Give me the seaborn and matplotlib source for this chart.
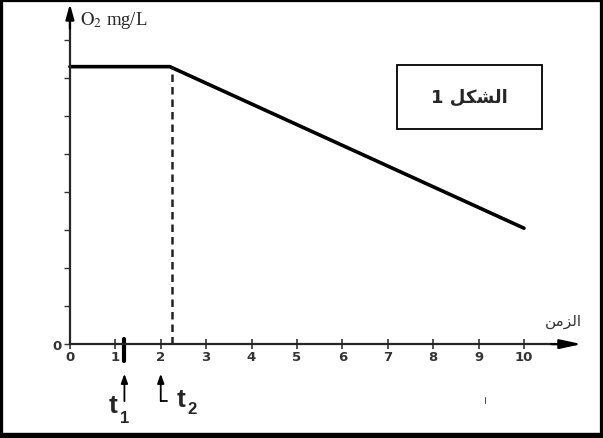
import numpy as np
import pandas as pd
import matplotlib
matplotlib.use("Agg")
import matplotlib.pyplot as plt
import matplotlib.patches as patches
import seaborn as sns

# data
time = [0, 2.2, 10]
o2 = [7.3, 7.3, 3.05]
knee_x = 2.25
x_ticks = list(range(0, 11))
y_ticks = list(range(0, 9))
t1 = 1.2
t2 = 2.0

# arabic labels (presentation forms, visual order)
title_ar = "1 " + "\uFEDE\uFEDC\uFEB8\uFEDF\uFE8D"   # الشكل 1
xlabel_ar = "\uFEE6\uFEE3\uFEB0\uFEDF\uFE8D"          # الزمن

sns.set_style("white")
plt.rcParams['font.family'] = ['DejaVu Sans']
plt.rcParams['mathtext.fontset'] = 'stix'

fig = plt.figure(figsize=(6.03, 4.39), dpi=100)
ax = fig.add_axes([0, 0, 1, 1])
ax.set_xlim(-1.54, 11.74)
ax.set_ylim(-2.47, 9.08)

df = pd.DataFrame({"t": time, "o2": o2})
sns.lineplot(data=df, x="t", y="o2", color="black", lw=2.6, ax=ax)
ax.plot([knee_x, knee_x], [0, o2[1]], color="#222222", lw=1.8, ls=(0, (3, 2)))

# axes through origin
for s in ["top", "right"]:
    ax.spines[s].set_visible(False)
ax.spines["left"].set_position(("data", 0))
ax.spines["bottom"].set_position(("data", 0))
ax.spines["left"].set_bounds(0, 8.5)
ax.spines["bottom"].set_bounds(0, 10.9)
ax.spines["left"].set_linewidth(1.6)
ax.spines["bottom"].set_linewidth(1.6)
arrow_kw = dict(color="black", lw=1.6, shrinkA=0, shrinkB=0)
ax.annotate("", xy=(11.27, 0), xytext=(10.6, 0),
            arrowprops=dict(arrowstyle="-|>,head_length=1.3,head_width=0.28",
                            **arrow_kw))
ax.annotate("", xy=(0, 8.95), xytext=(0, 8.3),
            arrowprops=dict(arrowstyle="-|>,head_length=0.9,head_width=0.25",
                            **arrow_kw))

ax.set_xticks(x_ticks)
ax.set_xticklabels([str(v) for v in x_ticks], fontsize=9.5, fontweight="bold",
                   color="#333333")
ax.set_yticks(y_ticks)
ax.set_yticklabels(["0"] + [""] * (len(y_ticks) - 1), fontsize=9.5,
                   fontweight="bold", color="#333333")
ax.tick_params(axis="x", bottom=True, direction="inout", length=7, width=1.2,
               pad=1, color="#333333")
ax.tick_params(axis="y", left=True, direction="out", length=4, width=1.0,
               pad=2, color="#333333")
ax.set_xlabel("")
ax.set_ylabel("")

ax.text(0.22, 8.55, r"$\mathrm{O_2}$ mg/L", fontsize=13.5,
        family="Liberation Serif", va="center", ha="left")
ax.text(11.28, 0.63, xlabel_ar, fontsize=11, ha="right", va="center",
        color="#333333")

# t1 / t2 markers
ax.plot([t1, t1], [0.13, -0.45], color="black", lw=3)
small_kw = dict(color="black", lw=1.3, shrinkA=0, shrinkB=0)
ax.annotate("", xy=(t1, -0.78), xytext=(t1, -1.5),
            arrowprops=dict(arrowstyle="-|>,head_length=0.55,head_width=0.2",
                            **small_kw))
ax.annotate("", xy=(t2, -0.78), xytext=(t2, -1.5),
            arrowprops=dict(arrowstyle="-|>,head_length=0.55,head_width=0.2",
                            **small_kw))
ax.plot([t2, t2 + 0.13], [-1.5, -1.5], color="black", lw=1.3)
ax.text(0.95, -1.6, "t", fontsize=19, fontweight="bold",
        family="Liberation Sans", ha="center", va="center")
ax.text(1.2, -1.92, "1", fontsize=12, fontweight="bold",
        family="Liberation Sans", ha="center", va="center")
ax.text(2.45, -1.45, "t", fontsize=19, fontweight="bold",
        family="Liberation Sans", ha="center", va="center")
ax.text(2.68, -1.7, "2", fontsize=12, fontweight="bold",
        family="Liberation Sans", ha="center", va="center")
ax.plot([9.15, 9.15], [-1.38, -1.55], color="#555555", lw=0.8)

# figure label box
ax.add_patch(patches.Rectangle((7.2, 5.66), 3.2, 1.68, fill=False,
                               edgecolor="black", lw=1.3))
ax.text(8.8, 6.5, title_ar, fontsize=13, fontweight="bold",
        ha="center", va="center")

# outer frame
fig.patches.append(patches.Rectangle((0, 0), 1, 1, transform=fig.transFigure,
                                     fill=False, edgecolor="black", lw=4.5))
fig.patches.append(patches.Rectangle((0, 0), 1, 0.012, transform=fig.transFigure,
                                     color="black"))

fig.savefig("out.png", dpi=100)
